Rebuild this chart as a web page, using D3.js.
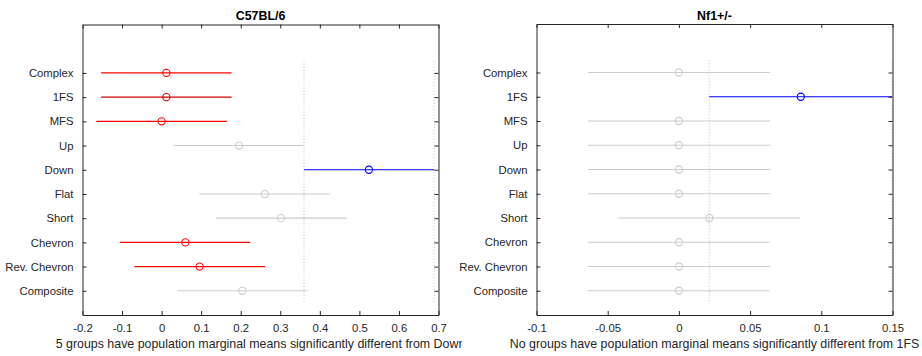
<!DOCTYPE html>
<html>
<head>
<meta charset="utf-8">
<script src="https://cdn.jsdelivr.net/npm/d3@7"></script>
<style>
  body { margin: 0; background: #fff; }
  svg { display: block; font-family: 'Liberation Sans', Arial, sans-serif; }
</style>
</head>
<body>
<svg id="chart" width="922" height="356"></svg>
<script>
const categories = ['Complex', '1FS', 'MFS', 'Up', 'Down', 'Flat', 'Short', 'Chevron', 'Rev. Chevron', 'Composite'];

// C57BL/6 panel (reference group: Down)
const wtMeans = [0.012, 0.012, 0.0, 0.196, 0.524, 0.261, 0.302, 0.060, 0.096, 0.204];
const wtLower = [-0.153, -0.153, -0.165, 0.031, 0.360, 0.095, 0.137, -0.105, -0.069, 0.039];
const wtUpper = [0.177, 0.177, 0.165, 0.360, 0.689, 0.426, 0.468, 0.224, 0.262, 0.369];
const wtStatus = ['sig', 'sig2', 'sig', 'ns', 'ref', 'ns', 'ns', 'sig', 'sig', 'ns'];
const wtTicks = [-0.2, -0.1, 0, 0.1, 0.2, 0.3, 0.4, 0.5, 0.6, 0.7];

// Nf1+/- panel (reference group: 1FS)
const nf1Means = [0, 0.0856, 0, 0, 0, 0, 0.0214, 0, 0, 0];
const nf1Lower = [-0.064, 0.0213, -0.064, -0.064, -0.064, -0.064, -0.0425, -0.064, -0.064, -0.064];
const nf1Upper = [0.064, 0.1497, 0.064, 0.064, 0.064, 0.064, 0.0853, 0.064, 0.064, 0.064];
const nf1Status = ['ns', 'ref', 'ns', 'ns', 'ns', 'ns', 'ns', 'ns', 'ns', 'ns'];
const nf1Ticks = [-0.1, -0.05, 0, 0.05, 0.1, 0.15];

const axisColor = '#262626';
const colors = {
  sig: '#ff0000', sig2: '#d00000', ref: '#0000ff', ns: '#cccccc',
};
const fontSize = 11.3;
const labelFontSize = 12.4; // labels/titles are 1.1x the tick font

const svg = d3.select('#chart');

const drawPanel = (opts) => {
  const {
    left, right, top, bottom, domain, ticks, means, lower, upper, status, title, xLabel, clipRight,
  } = opts;

  const x = d3.scaleLinear().domain(domain).range([left, right]);
  // category index 1..10 from top, with extra room above like multcompare
  const y = d3.scaleLinear().domain([-1, 11]).range([top, bottom]);

  const id = `clip-${left}`;
  svg.append('clipPath').attr('id', id)
    .append('rect')
    .attr('x', left).attr('y', top)
    .attr('width', right - left)
    .attr('height', bottom - top);

  const g = svg.append('g');
  const plot = g.append('g').attr('clip-path', `url(#${id})`);

  // dotted lines at reference interval bounds
  const refIdx = status.indexOf('ref');
  [lower[refIdx], upper[refIdx]].forEach((v) => {
    plot.append('line')
      .attr('x1', x(v)).attr('x2', x(v))
      .attr('y1', y(0.5)).attr('y2', y(10.5))
      .attr('stroke', '#bdbdbd')
      .attr('stroke-width', 1)
      .attr('stroke-dasharray', '1,2');
  });

  const rows = categories.map((c, i) => ({
    c, i, m: means[i], lo: lower[i], hi: upper[i], s: status[i],
  }));

  plot.selectAll('line.ci')
    .data(rows)
    .enter()
    .append('line')
    .attr('class', 'ci')
    .attr('x1', (d) => x(d.lo))
    .attr('x2', (d) => x(d.hi))
    .attr('y1', (d) => y(d.i + 1))
    .attr('y2', (d) => y(d.i + 1))
    .attr('stroke', (d) => colors[d.s])
    .attr('stroke-width', 1.1);

  plot.selectAll('circle')
    .data(rows)
    .enter()
    .append('circle')
    .attr('cx', (d) => x(d.m))
    .attr('cy', (d) => y(d.i + 1))
    .attr('r', 3.6)
    .attr('fill', 'none')
    .attr('stroke', (d) => colors[d.s])
    .attr('stroke-width', 1.1);

  // axes with ticks on all four sides (inward)
  const tickLen = 4;
  const fmt = (d) => String(d);

  const xb = g.append('g').attr('transform', `translate(0,${bottom})`)
    .call(d3.axisBottom(x).tickValues(ticks).tickSizeInner(-tickLen).tickSizeOuter(0).tickPadding(10).tickFormat(fmt));
  const xt = g.append('g').attr('transform', `translate(0,${top})`)
    .call(d3.axisTop(x).tickValues(ticks).tickSizeInner(-tickLen).tickSizeOuter(0).tickFormat(''));
  const yl = g.append('g').attr('transform', `translate(${left},0)`)
    .call(d3.axisLeft(y).tickValues(d3.range(1, 11)).tickSizeInner(tickLen).tickSizeOuter(0).tickPadding(5)
      .tickFormat((d) => categories[d - 1]));
  const yr = g.append('g').attr('transform', `translate(${right},0)`)
    .call(d3.axisRight(y).tickValues(d3.range(1, 11)).tickSizeInner(-tickLen).tickSizeOuter(0).tickFormat(''));

  [xb, xt, yl, yr].forEach((a) => {
    a.select('.domain').attr('stroke', axisColor).attr('stroke-width', 1);
    a.selectAll('.tick line').attr('stroke', axisColor).attr('stroke-width', 1);
    a.selectAll('text')
      .attr('fill', axisColor)
      .attr('font-size', `${fontSize}px`)
      .attr('font-family', 'Liberation Sans, Arial, sans-serif');
  });
  // y ticks drawn inward from the axis
  yl.selectAll('.tick line').attr('x2', tickLen);
  xb.selectAll('.tick text').attr('dy', '0.71em').attr('y', 9);

  g.append('text')
    .attr('x', (left + right) / 2)
    .attr('y', 19.5)
    .attr('text-anchor', 'middle')
    .attr('font-size', `${labelFontSize}px`)
    .attr('font-weight', 'bold')
    .attr('fill', '#000')
    .text(title);

  const lblClip = `lbl-${left}`;
  svg.append('clipPath').attr('id', lblClip)
    .append('rect')
    .attr('x', 0).attr('y', 0)
    .attr('width', clipRight).attr('height', 356);

  g.append('text')
    .attr('clip-path', `url(#${lblClip})`)
    .attr('x', (left + right) / 2)
    .attr('y', 348)
    .attr('text-anchor', 'middle')
    .attr('font-size', `${labelFontSize}px`)
    .attr('fill', axisColor)
    .text(xLabel);
};

drawPanel({
  left: 82.5,
  right: 438.5,
  top: 24.5,
  bottom: 315,
  domain: [-0.2, 0.7],
  ticks: wtTicks,
  means: wtMeans,
  lower: wtLower,
  upper: wtUpper,
  status: wtStatus,
  title: 'C57BL/6',
  xLabel: '5 groups have population marginal means significantly different from Down',
  clipRight: 462,
});

drawPanel({
  left: 536.5,
  right: 892.5,
  top: 24,
  bottom: 315,
  domain: [-0.1, 0.15],
  ticks: nf1Ticks,
  means: nf1Means,
  lower: nf1Lower,
  upper: nf1Upper,
  status: nf1Status,
  title: 'Nf1+/-',
  xLabel: 'No groups have population marginal means significantly different from 1FS',
  clipRight: 922,
});
</script>
</body>
</html>
